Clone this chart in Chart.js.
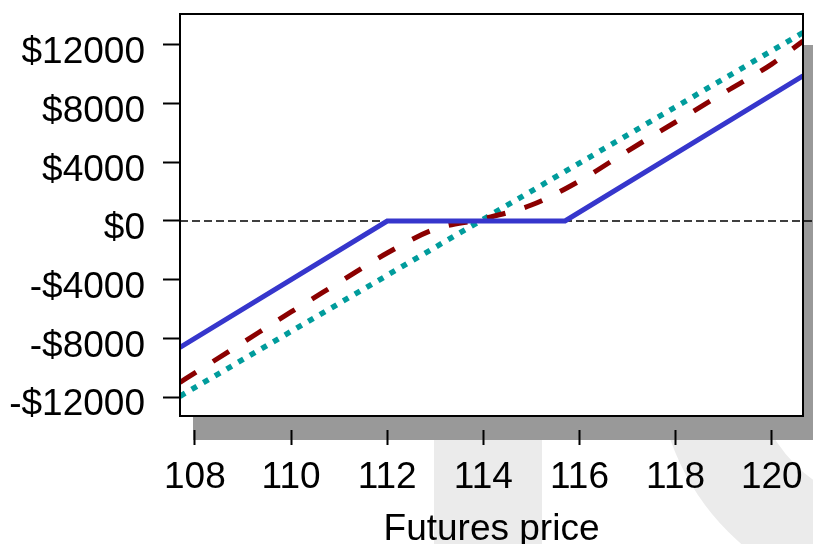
<!DOCTYPE html>
<html>
<head>
<meta charset="utf-8">
<script src="https://cdn.jsdelivr.net/npm/chart.js@4/dist/chart.umd.min.js"></script>
<style>
  html, body { margin: 0; padding: 0; background: #ffffff; }
  #wrap { width: 813px; height: 544px; }
</style>
</head>
<body>
<div id="wrap"><canvas id="c" width="813" height="544"></canvas></div>
<script>
// ---- data ----
const xTickValues = [108, 110, 112, 114, 116, 118, 120];
const yTickValues = [-12000, -8000, -4000, 0, 4000, 8000, 12000];

const blueX = [107.69, 112, 115.7, 120.65];
const blueY = [-8620, 0, 0, 9900];

const redX = [107.69, 108, 109, 110, 111, 112, 113, 114, 115, 116, 117, 118, 119, 120, 120.65];
const redY = [-11000, -10360, -8280, -6200, -4190, -2180, -545, 150, 1090, 2730, 4770, 6750, 8730, 10700, 12270];

const tealX = [107.69, 120.65];
const tealY = [-11950, 12850];

const xTitle = 'Futures price';

function pts(xs, ys) { return xs.map((x, i) => ({ x: x, y: ys[i] })); }
function money(v) { return v < 0 ? '-$' + Math.abs(v) : '$' + v; }

const FONT = '"Liberation Sans", Arial, sans-serif';

const decor = {
  id: 'decor',
  beforeDraw(chart) {
    const ctx = chart.ctx;
    const a = chart.chartArea;
    const W = chart.width, H = chart.height;
    ctx.save();
    ctx.fillStyle = '#ffffff';
    ctx.fillRect(0, 0, W, H);
    // light watermark shapes
    ctx.fillStyle = '#ebebeb';
    ctx.fillRect(434, 300, 108, H - 300);
    ctx.beginPath();
    ctx.arc(900, 360, 243, 0, Math.PI * 2, false);
    ctx.arc(900, 360, 148, 0, Math.PI * 2, true);
    ctx.fill('evenodd');
    // drop shadow
    ctx.fillStyle = '#999999';
    ctx.fillRect(a.left + 13, a.top + 31, W - (a.left + 13), a.bottom + 24 - (a.top + 31));
    // plot panel
    ctx.fillStyle = '#ffffff';
    ctx.fillRect(a.left, a.top, a.right - a.left, a.bottom - a.top);
    // zero reference line
    const y0 = chart.scales.y.getPixelForValue(0);
    ctx.strokeStyle = '#000000';
    ctx.lineWidth = 1.5;
    ctx.setLineDash([8, 4]);
    ctx.beginPath();
    ctx.moveTo(a.left, y0);
    ctx.lineTo(W, y0);
    ctx.stroke();
    ctx.restore();
  },
  afterDraw(chart) {
    const ctx = chart.ctx;
    const a = chart.chartArea;
    ctx.save();
    ctx.strokeStyle = '#000000';
    ctx.lineWidth = 2;
    ctx.strokeRect(a.left, a.top, a.right - a.left, a.bottom - a.top);
    ctx.restore();
  }
};

new Chart(document.getElementById('c'), {
  type: 'line',
  data: {
    datasets: [
      {
        label: 'Series A',
        data: pts(blueX, blueY),
        borderColor: '#3636cc',
        borderWidth: 5,
        pointRadius: 0,
        tension: 0
      },
      {
        label: 'Series B',
        data: pts(redX, redY),
        borderColor: '#8b0000',
        borderWidth: 5,
        borderDash: [19, 20],
        pointRadius: 0,
        cubicInterpolationMode: 'monotone'
      },
      {
        label: 'Series C',
        data: pts(tealX, tealY),
        borderColor: '#009c9c',
        borderWidth: 5.5,
        borderDash: [6, 7.5],
        pointRadius: 0,
        tension: 0
      }
    ]
  },
  options: {
    responsive: false,
    devicePixelRatio: 1,
    animation: false,
    layout: { padding: { left: 0, top: 14, right: 10, bottom: 0 } },
    plugins: {
      legend: { display: false },
      tooltip: { enabled: false },
      title: { display: false }
    },
    scales: {
      x: {
        type: 'linear',
        min: 107.69,
        max: 120.65,
        afterFit(scale) {
          scale.height = 128;
          scale.paddingLeft = 0; scale.paddingRight = 0;
          scale.paddingTop = 0; scale.paddingBottom = 0;
        },
        afterBuildTicks(scale) { scale.ticks = xTickValues.map(v => ({ value: v })); },
        border: { display: false },
        grid: {
          display: true,
          drawOnChartArea: false,
          drawTicks: true,
          tickLength: 29,
          tickWidth: 2,
          tickColor: '#000000',
          tickBorderDash: [0, 14, 15, 100],
          borderDash: [0, 14, 15, 100]
        },
        ticks: {
          color: '#000000',
          font: { family: FONT, size: 37 },
          padding: 11,
          maxRotation: 0,
          autoSkip: false,
          callback: (v) => String(v)
        },
        title: {
          display: true,
          text: xTitle,
          color: '#000000',
          font: { family: FONT, size: 37, lineHeight: 1 },
          padding: { top: 0, bottom: -4 }
        }
      },
      y: {
        type: 'linear',
        min: -13295,
        max: 14113,
        afterFit(scale) {
          scale.width = 180;
          scale.paddingLeft = 0; scale.paddingRight = 0;
          scale.paddingTop = 0; scale.paddingBottom = 0;
        },
        afterBuildTicks(scale) { scale.ticks = yTickValues.map(v => ({ value: v })); },
        border: { display: false },
        grid: {
          display: true,
          drawOnChartArea: false,
          drawTicks: true,
          tickLength: 17,
          tickWidth: 2,
          tickColor: '#000000'
        },
        ticks: {
          color: '#000000',
          font: { family: FONT, size: 37 },
          padding: 18,
          labelOffset: 8,
          autoSkip: false,
          callback: (v) => money(v)
        }
      }
    }
  },
  plugins: [decor]
});
</script>
</body>
</html>
